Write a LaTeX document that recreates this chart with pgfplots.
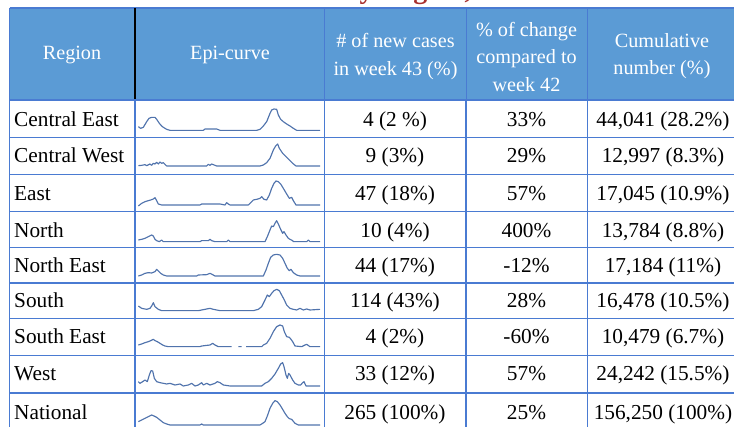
\documentclass[border=0pt]{standalone}
\usepackage{fontspec}
\setmainfont{Liberation Serif}
\newfontfamily\tnr{Liberation Serif}
\usepackage{pgfplots}
\pgfplotsset{compat=1.18}
\definecolor{hdrblue}{HTML}{5B9BD5}
\definecolor{gridblue}{HTML}{4A7BD2}
\definecolor{sparkc}{HTML}{5073AC}
\definecolor{titlered}{HTML}{A8302E}
\tikzset{spark/.style={color=sparkc,line width=1.15pt,line join=round,mark=none}}
\begin{document}
\begin{tikzpicture}
\useasboundingbox (0pt,0pt) rectangle (734pt,427pt);
\clip (0pt,0pt) rectangle (734pt,427pt);
\begin{scope}[x=1pt,yshift=427pt,y=-1pt]
% title (cut off at top)
\node[anchor=base,text=titlered,font=\tnr\bfseries\fontsize{28}{30}\selectfont,inner sep=0pt] at (335,-1.2) {Table 4: COVID-19 cases by Region, as of week 43};
% header
\fill[hdrblue] (9.5,8) rectangle (760,100);
\draw[gridblue,line width=1.2pt] (9.5,8) -- (760,8);
\draw[gridblue,line width=1pt] (324.5,8) -- (324.5,100) (466,8) -- (466,100) (587.5,8) -- (587.5,100);
\draw[black,line width=1.3pt] (135,8) -- (135,100);
% body grid
\foreach \yy in {100,137.5,174.5,211.5,247.5,283,318.5,355.5,393}
  \draw[gridblue,line width=1.2pt] (9.5,\yy) -- (760,\yy);
\foreach \xx in {9.5,135,324.5,466,587.5}
  \draw[gridblue,line width=1.2pt] (\xx,100) -- (\xx,440);
\draw[gridblue,line width=1.2pt] (9.5,8) -- (9.5,100);
% header text
\begin{scope}[every node/.style={text=white,font=\tnr\fontsize{20.2}{27.5}\selectfont,align=center,inner sep=0pt}]
\node at (72,55) {Region};
\node at (230,55) {Epi-curve};
\node at (395.5,56.5) {\# of new cases\\in week 43 (\%)};
\node at (526.5,56.5) {\% of change\\compared to\\week 42};
\node at (662,56) {Cumulative\\number (\%)};
\end{scope}
% body text
\begin{scope}[every node/.style={text=black,font=\tnr\fontsize{21.3}{24}\selectfont,inner sep=0pt,anchor=base}]
\foreach \yy/\nm/\a/\b/\c in {
 120/Central East/4 (2 \%)/33\%/{44,041 (28.2\%)},
 156/Central West/9 (3\%)/29\%/{12,997 (8.3\%)},
 193.3/East/47 (18\%)/57\%/{17,045 (10.9\%)},
 230.5/North/10 (4\%)/400\%/{13,784 (8.8\%)},
 265.7/North East/44 (17\%)/-12\%/{17,184 (11\%)},
 301/South/114 (43\%)/28\%/{16,478 (10.5\%)},
 336.7/South East/4 (2\%)/-60\%/{10,479 (6.7\%)},
 374/West/33 (12\%)/57\%/{24,242 (15.5\%)},
 412.3/National/265 (100\%)/25\%/{156,250 (100\%)}}{
  \node[anchor=base west] at (14,\yy+7) {\nm};
  \node at (395,\yy+7) {\a};
  \node at (526.5,\yy+7) {\b};
  \node at (663,\yy+7) {\c};
}
\end{scope}
\end{scope}
% sparklines
\begin{axis}[at={(130pt,327pt)},anchor=north west,scale only axis,width=200pt,height=327pt,
  xmin=0,xmax=600,ymin=0,ymax=981,y dir=reverse,hide axis,clip=false,
  unbounded coords=jump]
\addplot[spark] coordinates {(25,80)(32,85)(40,82)(50,65)(57,55)(65,52)(75,52)(80,58)(88,70)(95,78)(100,82)(110,88)(120,91)(220,91)(225,87)(260,87)(270,91)(380,91)(390,88)(400,78)(410,65)(420,40)(425,30)(432,27)(440,28)(445,45)(452,58)(460,65)(470,72)(480,78)(490,85)(500,91)(570,91)};
\addplot[spark] coordinates {(25,197)(35,196)(45,194)(50,197)(60,192)(65,196)(70,190)(75,192)(80,187)(85,192)(90,186)(95,190)(100,188)(110,198)(230,198)(235,193)(240,196)(245,192)(255,196)(260,198)(390,198)(400,195)(410,188)(420,175)(430,150)(437,138)(443,132)(448,145)(458,160)(468,170)(478,180)(488,190)(498,198)(570,198)};
\addplot[spark] coordinates {(25,318)(35,310)(45,305)(55,302)(62,300)(70,297)(75,293)(80,302)(85,312)(95,315)(210,315)(215,312)(270,312)(285,315)(290,308)(295,312)(300,315)(355,315)(360,310)(370,300)(380,298)(390,295)(395,290)(402,298)(410,300)(418,285)(425,265)(432,250)(438,243)(445,245)(452,252)(460,265)(470,282)(478,295)(485,292)(490,302)(498,315)(570,315)};
\addplot[spark] coordinates {(25,420)(35,418)(45,415)(55,410)(65,405)(70,408)(75,418)(80,422)(88,425)(95,420)(100,425)(210,425)(215,422)(235,422)(240,418)(245,422)(255,425)(290,425)(295,420)(300,425)(405,425)(412,410)(420,390)(425,378)(430,380)(435,370)(440,362)(445,372)(452,388)(458,400)(462,395)(468,405)(475,415)(480,418)(488,422)(490,425)(530,425)(535,420)(540,425)(570,425)};
\addplot[spark] coordinates {(25,528)(35,525)(45,520)(55,518)(65,519)(75,515)(80,508)(85,513)(92,520)(100,525)(110,528)(200,528)(205,525)(230,524)(240,520)(248,524)(255,528)(400,528)(408,510)(415,490)(422,472)(430,465)(440,463)(450,465)(458,475)(465,490)(472,505)(478,512)(483,508)(490,518)(500,525)(510,528)(570,528)};
\addplot[spark] coordinates {(25,618)(35,625)(50,628)(60,625)(65,618)(70,608)(75,620)(85,628)(95,632)(205,632)(215,630)(240,625)(250,628)(270,632)(370,632)(385,628)(395,620)(405,600)(412,585)(418,590)(425,580)(432,572)(440,568)(448,572)(455,585)(462,598)(470,615)(480,625)(490,628)(500,630)(510,625)(520,630)(530,627)(540,630)(570,628)};
\addplot[spark] coordinates {(25,735)(35,732)(45,728)(55,725)(62,722)(70,718)(75,722)(82,725)(90,730)(98,735)(105,738)(115,740)(210,740)(215,738)(240,735)(248,730)(255,735)(265,740)(305,740)(315,nan)(325,740)(335,740)(340,nan)(348,740)(395,740)(400,735)(410,730)(420,715)(430,695)(440,680)(450,675)(458,678)(463,695)(470,710)(478,712)(483,718)(488,725)(495,738)(515,740)(525,735)(530,733)(540,740)(570,740)};
\addplot[spark] coordinates {(25,845)(30,850)(38,845)(45,840)(52,845)(58,825)(63,812)(68,813)(73,835)(80,845)(90,848)(100,850)(110,852)(120,850)(135,855)(150,852)(160,858)(175,855)(185,850)(195,858)(205,855)(215,848)(220,855)(230,850)(240,855)(255,850)(262,845)(270,848)(280,855)(300,858)(395,858)(405,850)(415,845)(425,835)(435,822)(445,805)(452,792)(458,788)(462,800)(468,825)(472,835)(476,820)(480,825)(488,840)(495,850)(505,855)(512,855)(518,848)(522,845)(528,858)(570,858)};
\addplot[spark] coordinates {(25,965)(35,960)(45,955)(55,950)(65,945)(72,948)(80,952)(90,960)(100,968)(110,972)(120,975)(210,975)(215,972)(220,975)(390,975)(398,970)(405,965)(412,948)(420,925)(428,910)(435,902)(442,905)(450,915)(458,928)(465,940)(472,950)(478,956)(485,958)(495,970)(505,975)(570,975)};
\end{axis}
\end{tikzpicture}
\end{document}
